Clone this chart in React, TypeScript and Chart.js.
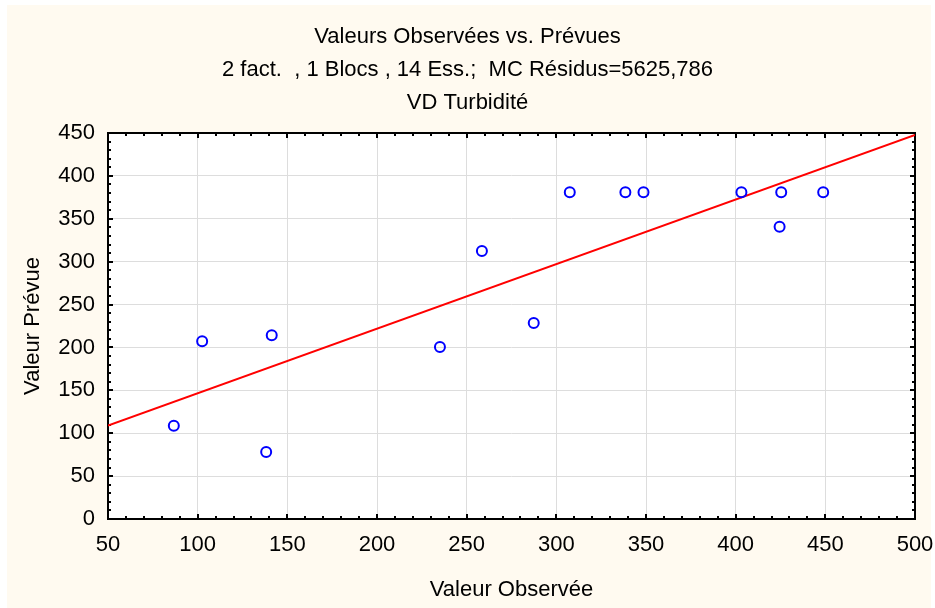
import React, { useEffect, useRef } from "react";
import { Chart, registerables } from "chart.js";

Chart.register(...registerables);

const titleLines = [
  "Valeurs Observées vs. Prévues",
  "2 fact.  , 1 Blocs , 14 Ess.;  MC Résidus=5625,786",
  "VD Turbidité",
];
const xTitle = "Valeur Observée";
const yTitle = "Valeur Prévue";

const observed = [86.7, 102.5, 138.2, 141.3, 235.1, 258.5, 287.4, 307.5, 338.5, 348.6, 403.2, 424.5, 425.4, 448.8];
const predicted = [108.8, 207.2, 78.1, 214.1, 200.5, 312.4, 228.5, 381, 381, 381, 381, 340.8, 381, 381];

const fitX = [50, 500];
const fitY = [108.8, 447.7];

const xMin = 50;
const xMax = 500;
const xStep = 50;
const yMin = 0;
const yMax = 450;
const yStep = 50;
const minorStep = 10;

const FONT = "'Liberation Sans', Arial, sans-serif";

const framePlugin = {
  id: "frame",
  beforeDraw(chart: any) {
    const { ctx, chartArea } = chart;
    ctx.save();
    ctx.fillStyle = "#ffffff";
    ctx.fillRect(0, 0, chart.width, chart.height);
    ctx.fillStyle = "#FFFAF0";
    ctx.fillRect(7, 5, chart.width - 11, chart.height - 5);
    ctx.fillStyle = "#ffffff";
    ctx.fillRect(chartArea.left, chartArea.top, chartArea.right - chartArea.left, chartArea.bottom - chartArea.top);
    ctx.restore();
  },
  beforeDatasetsDraw(chart: any) {
    const { ctx, chartArea, scales } = chart;
    const { left, right, top, bottom } = chartArea;
    const xs = scales.x;
    const ys = scales.y;
    ctx.save();
    ctx.strokeStyle = "#000000";
    ctx.lineWidth = 2;
    ctx.beginPath();
    for (let v = xMin; v <= xMax + 1e-6; v += minorStep) {
      const px = Math.round(xs.getPixelForValue(v));
      const major = Math.abs((v - xMin) % xStep) < 1e-6;
      const len = major ? 5 : 3;
      ctx.moveTo(px, bottom);
      ctx.lineTo(px, bottom - len);
      ctx.moveTo(px, top);
      ctx.lineTo(px, top + len);
    }
    for (let v = yMin; v <= yMax + 1e-6; v += minorStep) {
      const py = Math.round(ys.getPixelForValue(v));
      const major = Math.abs((v - yMin) % yStep) < 1e-6;
      const len = major ? 5 : 3;
      ctx.moveTo(left, py);
      ctx.lineTo(left + len, py);
      ctx.moveTo(right, py);
      ctx.lineTo(right - len, py);
    }
    ctx.stroke();
    ctx.lineWidth = 2;
    ctx.strokeRect(left, top, right - left, bottom - top);
    ctx.restore();
  },
};

export default function App() {
  const ref = useRef<HTMLCanvasElement | null>(null);

  useEffect(() => {
    document.body.style.margin = "0";
    const canvas = ref.current;
    if (!canvas) return;
    const chart = new Chart(canvas, {
      type: "scatter",
      data: {
        datasets: [
          {
            label: "Observations",
            data: observed.map((x, i) => ({ x, y: predicted[i] })),
            pointRadius: 5,
            pointBorderWidth: 2,
            pointBorderColor: "#0000ff",
            pointBackgroundColor: "rgba(0,0,0,0)",
            showLine: false,
          },
          {
            label: "Ajustement",
            type: "line",
            data: fitX.map((x, i) => ({ x, y: fitY[i] })),
            borderColor: "#ff0000",
            borderWidth: 2,
            pointRadius: 0,
            fill: false,
            tension: 0,
          } as any,
        ],
      },
      options: {
        responsive: false,
        animation: false,
        devicePixelRatio: 1,
        layout: { padding: { left: 0, right: 0, top: 0, bottom: 0 } },
        plugins: {
          legend: { display: false },
          tooltip: { enabled: false },
          title: {
            display: true,
            text: titleLines,
            color: "#000000",
            font: { family: FONT, size: 22, weight: "normal", lineHeight: 1.5 },
            padding: { top: 20, bottom: 14 },
          },
        },
        scales: {
          x: {
            type: "linear",
            position: "bottom",
            min: xMin,
            max: xMax,
            ticks: {
              stepSize: xStep,
              color: "#000000",
              font: { family: FONT, size: 22 },
              padding: 13,
              maxRotation: 0,
            },
            grid: { color: "#dddddd", lineWidth: 1, drawTicks: false },
            border: { display: false },
            title: {
              display: true,
              text: xTitle,
              color: "#000000",
              font: { family: FONT, size: 22, lineHeight: 1.2 },
              padding: { top: 0, bottom: 5 },
            },
            afterFit: (s: any) => {
              s.height = 89;
              s.paddingRight = 20;
            },
          },
          y: {
            type: "linear",
            min: yMin,
            max: yMax,
            ticks: {
              stepSize: yStep,
              color: "#000000",
              font: { family: FONT, size: 22 },
              padding: 13,
            },
            grid: { color: "#dddddd", lineWidth: 1, drawTicks: false },
            border: { display: false },
            title: {
              display: true,
              text: yTitle,
              color: "#000000",
              font: { family: FONT, size: 22, lineHeight: 1.2 },
              padding: { top: 20, bottom: 0 },
            },
            afterFit: (s: any) => {
              s.width = 108;
            },
          },
        },
      },
      plugins: [framePlugin],
    });
    return () => chart.destroy();
  }, []);

  return <canvas ref={ref} width={935} height={608} style={{ display: "block" }} />;
}
